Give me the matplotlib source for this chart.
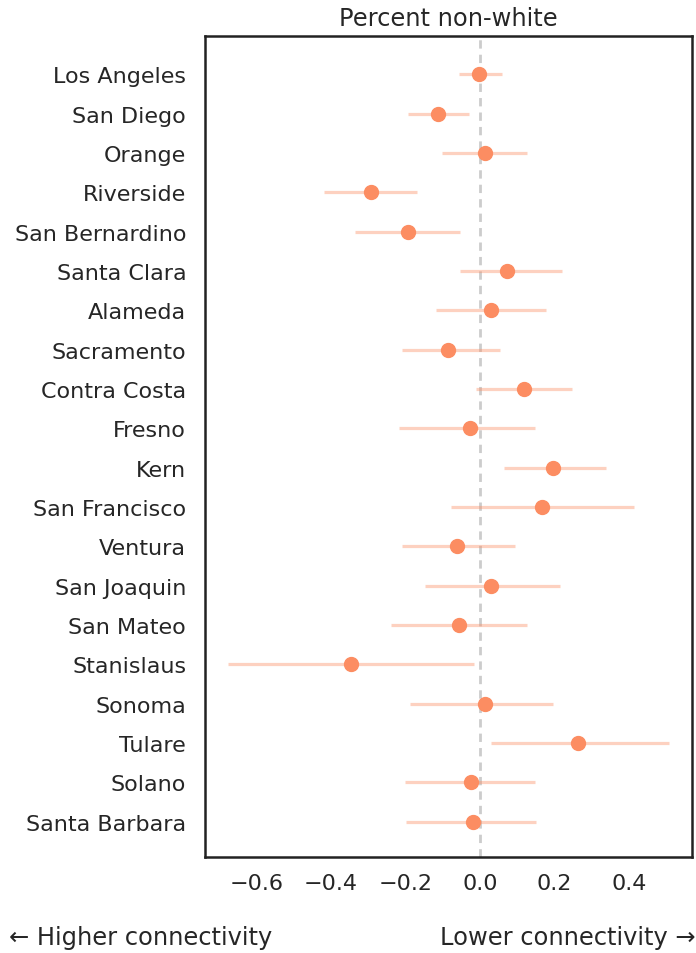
import matplotlib
matplotlib.use("Agg")
import matplotlib.pyplot as plt
import numpy as np

counties = ["Los Angeles", "San Diego", "Orange", "Riverside", "San Bernardino",
            "Santa Clara", "Alameda", "Sacramento", "Contra Costa", "Fresno",
            "Kern", "San Francisco", "Ventura", "San Joaquin", "San Mateo",
            "Stanislaus", "Sonoma", "Tulare", "Solano", "Santa Barbara"]
estimate = [-0.002, -0.113, 0.013, -0.293, -0.192,
            0.072, 0.030, -0.085, 0.119, -0.028,
            0.196, 0.167, -0.063, 0.029, -0.056,
            -0.346, 0.013, 0.264, -0.025, -0.019]
ci_low = [-0.057, -0.193, -0.101, -0.419, -0.336,
          -0.054, -0.117, -0.210, -0.010, -0.218,
          0.065, -0.077, -0.209, -0.147, -0.240,
          -0.677, -0.188, 0.030, -0.202, -0.198]
ci_high = [0.060, -0.030, 0.127, -0.169, -0.054,
           0.220, 0.177, 0.053, 0.248, 0.148,
           0.337, 0.412, 0.094, 0.215, 0.127,
           -0.017, 0.197, 0.508, 0.148, 0.151]
xticks = [-0.6, -0.4, -0.2, 0.0, 0.2, 0.4]

plt.rcParams["font.family"] = ["DejaVu Sans"]
text_col = "#262626"
dot_col = "#FC8D62"

fig = plt.figure(figsize=(6.96, 9.54), dpi=100)
ax = fig.add_axes([0.2945, 0.1009, 0.6993, 0.86])

ypos = np.arange(len(counties))
ax.axvline(0, color="#cccccc", lw=2, ls=(0, (3, 2.2)), zorder=1)
ax.hlines(ypos, ci_low, ci_high, color=dot_col, alpha=0.4, lw=2.3, zorder=2)
ax.plot(estimate, ypos, "o", color=dot_col, ms=10, zorder=3)

ax.set_yticks(ypos)
ax.set_yticklabels(counties)
ax.set_xticks(xticks)
ax.set_xticklabels(["\u2212%.1f" % abs(t) if t < 0 else "%.1f" % t for t in xticks])
ax.set_xlim(-0.738, 0.568)
ax.set_ylim(len(counties) - 1 + 0.89, -0.97)
ax.tick_params(length=0, labelsize=16, colors=text_col)
ax.tick_params(axis="x", pad=12)
ax.tick_params(axis="y", pad=13.5)
for s in ax.spines.values():
    s.set_linewidth(1.8)
    s.set_color("#222222")

ax.set_title("Percent non-white", fontsize=17.4, color=text_col, pad=8)

fig.text(0.013, 0.017, "\u2190 Higher connectivity", fontsize=17.4, color=text_col,
         ha="left", va="center")
fig.text(0.999, 0.017, "Lower connectivity \u2192", fontsize=17.4, color=text_col,
         ha="right", va="center")

fig.savefig("out.png", dpi=100)
